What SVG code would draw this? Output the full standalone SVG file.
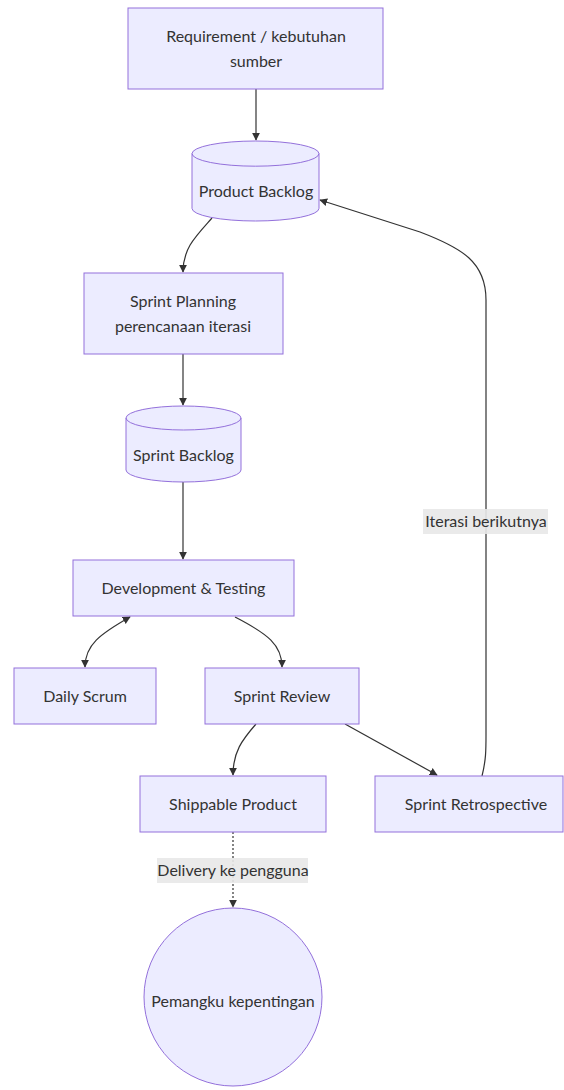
<svg xmlns="http://www.w3.org/2000/svg" width="564" height="1090" viewBox="0 0 564 1090">
  <style>
    .node rect, .node path, .node circle { fill: #ECECFF; stroke: #9370DB; stroke-width: 1; }
    .label { font-family: "Lato", "Liberation Sans", sans-serif; font-size: 16px; fill: #333333; text-anchor: middle; dominant-baseline: central; }
    .edge { fill: none; stroke: #333333; stroke-width: 1.2; }
    .dotted { stroke-dasharray: 2 2; }
    .edge-bg { fill: #E8E8E8; opacity: 0.9; }
  </style>
  <defs>
    <marker id="arrowEnd" viewBox="0 0 10 10" refX="9" refY="5" markerWidth="8" markerHeight="8" orient="auto" markerUnits="userSpaceOnUse">
      <path d="M0,0 L10,5 L0,10 z" fill="#333333"/>
    </marker>
    <marker id="arrowStart" viewBox="0 0 10 10" refX="1" refY="5" markerWidth="8" markerHeight="8" orient="auto" markerUnits="userSpaceOnUse">
      <path d="M10,0 L0,5 L10,10 z" fill="#333333"/>
    </marker>
  </defs>

  <!-- connectors -->
  <g id="edges">
    <path class="edge" d="M256,89 L256,140" marker-end="url(#arrowEnd)"/>
    <path class="edge" d="M212,218 C196,236 183,248 183,272" marker-end="url(#arrowEnd)"/>
    <path class="edge" d="M183,354 L183,405" marker-end="url(#arrowEnd)"/>
    <path class="edge" d="M183,482 L183,559" marker-end="url(#arrowEnd)"/>
    <path class="edge" d="M130,617 C100,634 85,645 85,667" marker-start="url(#arrowStart)" marker-end="url(#arrowEnd)"/>
    <path class="edge" d="M235,617 C268,634 282,645 282,667" marker-end="url(#arrowEnd)"/>
    <path class="edge" d="M256,724 C242,740 233,752 233,775" marker-end="url(#arrowEnd)"/>
    <path class="edge" d="M345,724 L437,775" marker-end="url(#arrowEnd)"/>
    <path class="edge dotted" d="M233,832 L233,907" marker-end="url(#arrowEnd)"/>
    <path class="edge" d="M482,776 C486,760 486,750 486,735 L486,300 C486,262 462,248 420,232 L320,200" marker-end="url(#arrowEnd)"/>
    <rect class="edge-bg" x="423" y="509" width="125" height="25"/>
    <text class="label" x="486" y="520">Iterasi berikutnya</text>
    <rect class="edge-bg" x="157" y="858" width="151" height="25"/>
    <text class="label" x="233" y="869">Delivery ke pengguna</text>
  </g>

  <g id="requirement" class="node">
    <rect x="128" y="8" width="255" height="81"/>
    <text class="label" x="256" y="35">Requirement / kebutuhan</text>
    <text class="label" x="256" y="60">sumber</text>
  </g>

  <g id="productBacklog" class="node">
    <path d="M192,153.6 a63.5,12.6 0 0 0 127,0 a63.5,12.6 0 0 0 -127,0 l0,54.8 a63.5,12.6 0 0 0 127,0 l0,-54.8"/>
    <text class="label" x="256" y="190">Product Backlog</text>
  </g>

  <g id="sprintPlanning" class="node">
    <rect x="84" y="273" width="199" height="81"/>
    <text class="label" x="183" y="300">Sprint Planning</text>
    <text class="label" x="183" y="325">perencanaan iterasi</text>
  </g>

  <g id="sprintBacklog" class="node">
    <path d="M126,418 a57.5,12 0 0 0 115,0 a57.5,12 0 0 0 -115,0 l0,52 a57.5,12 0 0 0 115,0 l0,-52"/>
    <text class="label" x="183.5" y="454">Sprint Backlog</text>
  </g>

  <g id="devTesting" class="node">
    <rect x="73" y="560" width="221" height="56"/>
    <text class="label" x="183.5" y="587">Development &amp; Testing</text>
  </g>

  <g id="dailyScrum" class="node">
    <rect x="14" y="668" width="142" height="56"/>
    <text class="label" x="85" y="695">Daily Scrum</text>
  </g>

  <g id="sprintReview" class="node">
    <rect x="205" y="668" width="154" height="56"/>
    <text class="label" x="282" y="695">Sprint Review</text>
  </g>

  <g id="shippable" class="node">
    <rect x="140" y="776" width="186" height="56"/>
    <text class="label" x="233" y="803">Shippable Product</text>
  </g>

  <g id="retrospective" class="node">
    <rect x="375" y="776" width="188" height="56"/>
    <text class="label" x="476" y="803">Sprint Retrospective</text>
  </g>

  <g id="stakeholder" class="node">
    <circle cx="233" cy="997" r="89"/>
    <text class="label" x="233" y="1000">Pemangku kepentingan</text>
  </g>
</svg>
